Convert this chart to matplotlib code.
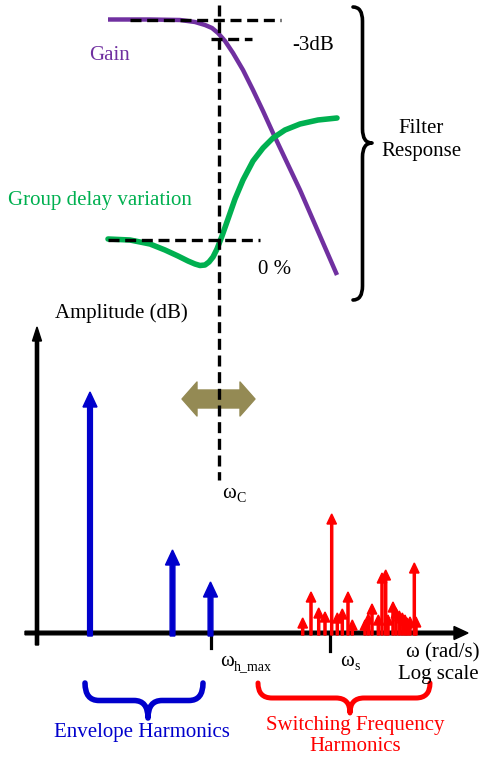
import numpy as np
import matplotlib
matplotlib.use("Agg")
import matplotlib.pyplot as plt
from matplotlib.path import Path
import matplotlib.patches as mpatches

plt.rcParams['font.family'] = ['Liberation Serif', 'DejaVu Serif']

# ---- data (pixel space of the 495x761 sketch, y grows downward) ----
# filter response curves
gain_x = [108, 150, 180, 195, 205, 212, 218, 225, 233, 243, 253, 263, 273, 300, 337]
gain_y = [19.5, 19.5, 20, 22, 25, 28, 33, 41, 53, 70, 90, 111, 133, 190, 275]
gd_x = [108, 130, 150, 165, 178, 188, 195, 200, 205, 209, 213, 217, 222, 228, 235,
        243, 253, 263, 273, 285, 300, 318, 337]
gd_y = [239, 240, 244, 250, 256, 261, 264, 265.5, 265, 262, 257, 249, 236, 219, 199,
        180, 161, 148, 138, 130, 124, 120, 118]

# spectrum
baseline = 633
env_x = [90, 172.5, 210.5]
env_tip = [392, 550, 582]
sw_x = [302.7, 311, 318.7, 325, 331.7, 337.3, 342.3, 348, 352.3, 365, 368.3, 372,
        378.3, 382, 385.7, 388, 393, 396, 399.3, 402.3, 405, 407.3, 410, 414.3, 416]
sw_tip = [618, 592, 608, 612, 514, 613, 609, 592, 620, 620, 614, 604, 615, 573,
          570, 615, 602, 608, 611, 613, 615, 618, 617, 563, 617]

wc_x = 218.5
wh_max_x = 211
ws_x = 330

PURPLE = '#7030A0'
GREEN = '#00B050'
BLUE = '#0000CC'
RED = '#FF0000'
KHAKI = '#948A54'
FS = 15


def brace(ax, p0, p1, tip_u, depth, r, color, lw):
    """curly brace from p0 to p1, tip pointing along the left normal by depth"""
    p0 = np.array(p0, float)
    p1 = np.array(p1, float)
    L = np.linalg.norm(p1 - p0)
    t = (p1 - p0) / L
    n = np.array([-t[1], t[0]])
    h = depth / 2.0
    uv = [(0, 0), (0, h), (r, h), (tip_u - r, h), (tip_u, h), (tip_u, depth),
          (tip_u, h), (tip_u + r, h), (L - r, h), (L, h), (L, 0)]
    codes = [Path.MOVETO, Path.CURVE3, Path.CURVE3, Path.LINETO, Path.CURVE3, Path.CURVE3,
             Path.CURVE3, Path.CURVE3, Path.LINETO, Path.CURVE3, Path.CURVE3]
    pts = [p0 + u * t + v * n for u, v in uv]
    ax.add_patch(mpatches.PathPatch(Path(pts, codes), fill=False, ec=color, lw=lw,
                                    capstyle='round', joinstyle='round'))


fig = plt.figure(figsize=(4.95, 7.61), dpi=100)
ax = fig.add_axes([0, 0, 1, 1])
ax.set_xlim(0, 495)
ax.set_ylim(761, 0)
ax.axis('off')

dash = (0, (3.3, 1.7))

# filter response
ax.plot(gain_x, gain_y, color=PURPLE, lw=3.2, solid_capstyle='butt', zorder=2)
ax.plot(gd_x, gd_y, color=GREEN, lw=4.0, solid_capstyle='round', zorder=2)
ax.plot([130, 281], [20, 20], color='k', lw=2.4, ls=dash, zorder=3)
ax.plot([211, 252], [39, 39], color='k', lw=2.4, ls=dash, zorder=3)
ax.plot([108, 260], [239.5, 239.5], color='k', lw=2.4, ls=dash, zorder=3)
ax.plot([wc_x, wc_x], [5, 480], color='k', lw=2.4, ls=dash, zorder=3)

ax.text(110, 55, 'Gain', color=PURPLE, fontsize=FS, ha='center', va='center')
ax.text(192, 200, 'Group delay variation', color=GREEN, fontsize=FS, ha='right', va='center')
ax.text(292, 45, '-3dB', color='k', fontsize=FS, ha='left', va='center')
ax.text(258, 270, '0 %', color='k', fontsize=FS, ha='left', va='center')
ax.text(421, 140, 'Filter\nResponse', color='k', fontsize=FS, ha='center', va='center',
        linespacing=1.35)
brace(ax, (353, 300), (353, 7), 300 - 143, 19, 14, 'k', 2.6)

# spectrum axes
ax.text(55, 313, 'Amplitude (dB)', color='k', fontsize=FS, ha='left', va='center')
ax.arrow(25, baseline, 443, 0, width=3.6, head_width=13, head_length=14,
         length_includes_head=True, color='k', zorder=4)
ax.arrow(37, 645, 0, -318, width=3.2, head_width=9, head_length=14,
         length_includes_head=True, color='k', zorder=4)
ax.plot([wh_max_x, wh_max_x], [baseline, 648], color='k', lw=2.3, zorder=4)
ax.plot([ws_x, ws_x], [baseline, 651], color='k', lw=2.3, zorder=4)

for x, tip in zip(env_x, env_tip):
    ax.arrow(x, baseline + 3, 0, tip - baseline - 3, width=4.8, head_width=14, head_length=15,
             length_includes_head=True, color=BLUE, zorder=5)
for x, tip in zip(sw_x, sw_tip):
    ax.arrow(x, baseline + 2, 0, tip - baseline - 2, width=2.1, head_width=9.5, head_length=10,
             length_includes_head=True, color=RED, zorder=5)

# bandwidth double arrow
x0, x1, yc, hs, hh, hl = 182, 255, 399, 9, 17, 15
dbl = [(x0, yc), (x0 + hl, yc - hh), (x0 + hl, yc - hs), (x1 - hl, yc - hs), (x1 - hl, yc - hh),
       (x1, yc), (x1 - hl, yc + hh), (x1 - hl, yc + hs), (x0 + hl, yc + hs), (x0 + hl, yc + hh)]
ax.add_patch(mpatches.Polygon(dbl, closed=True, fc=KHAKI, ec=KHAKI, lw=1, joinstyle='round',
                              zorder=2))

# frequency labels
ax.text(222, 493, 'ω', fontsize=FS, ha='left', va='center')
ax.text(236, 498, 'C', fontsize=10, ha='left', va='center')
ax.text(220, 662, 'ω', fontsize=FS, ha='left', va='center')
ax.text(234, 667, 'h_max', fontsize=10, ha='left', va='center')
ax.text(340, 662, 'ω', fontsize=FS, ha='left', va='center')
ax.text(354, 667, 's', fontsize=10, ha='left', va='center')
ax.text(480, 653, 'ω (rad/s)', fontsize=FS, ha='right', va='center')
ax.text(479, 675, 'Log scale', fontsize=FS, ha='right', va='center')

# harmonic groups
brace(ax, (85, 683), (203, 683), 63, 35, 14, BLUE, 4.0)
brace(ax, (258, 683), (430, 683), 92, 30, 14, RED, 3.6)
ax.text(142, 733, 'Envelope Harmonics', color=BLUE, fontsize=FS, ha='center', va='center')
ax.text(355, 736, 'Switching Frequency\nHarmonics', color=RED, fontsize=FS, ha='center',
        va='center', linespacing=1.2)

fig.savefig('out.png', dpi=100)
